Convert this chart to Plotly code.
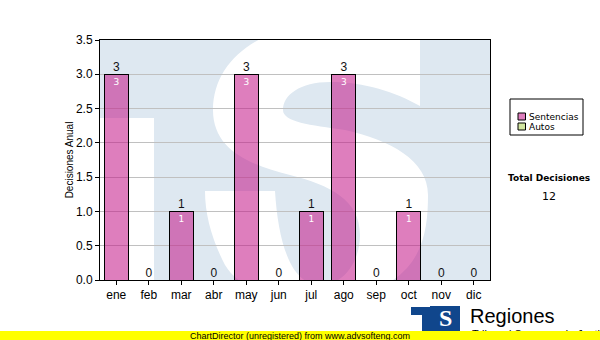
import plotly.graph_objects as go

# ---- data ----
months = ["ene", "feb", "mar", "abr", "may", "jun", "jul", "ago", "sep", "oct", "nov", "dic"]
sentencias = [3, 0, 1, 0, 3, 0, 1, 3, 0, 1, 0, 0]
autos = [0, 0, 0, 0, 0, 0, 0, 0, 0, 0, 0, 0]
series_names = ["Sentencias", "Autos"]
y_ticks = [0.0, 0.5, 1.0, 1.5, 2.0, 2.5, 3.0, 3.5]
totals = [s + a for s, a in zip(sentencias, autos)]
total_decisiones = sum(totals)

W, H = 600, 340
L, R, T, B = 100, 110, 40, 60  # plot area 100..490 x 40..280

def px(x):
    return (x - L) / (W - L - R)

def py(y):
    return (H - B - y) / (H - T - B)

AXF = "Liberation Sans, Arial, sans-serif"
VF = "DejaVu Sans, Verdana, sans-serif"
PINK = "rgba(195,20,135,0.55)"
PINK_SWATCH = "#de7ebd"
GREEN = "#d2e6a0"
WM = "#dee8f1"

fig = go.Figure()

fig.add_trace(go.Bar(
    x=months, y=sentencias, name=series_names[0],
    marker=dict(color=PINK, line=dict(color="black", width=1)),
    width=0.74,
    text=[str(v) if v else "" for v in sentencias],
    textposition="inside", insidetextanchor="end", textangle=0,
    insidetextfont=dict(color="white", size=9, family=VF),
    hoverinfo="skip",
))
fig.add_trace(go.Bar(
    x=months, y=autos, name=series_names[1],
    marker=dict(color=GREEN, line=dict(color="black", width=1)),
    width=0.74, hoverinfo="skip",
))
fig.add_trace(go.Scatter(
    x=months, y=totals, mode="text",
    text=[str(v) for v in totals], textposition="top center",
    textfont=dict(size=12, color="#111111", family=AXF),
    hoverinfo="skip", cliponaxis=False,
))
# empty trace on pixel-like overlay axes used for the watermark
fig.add_trace(go.Scatter(x=[], y=[], xaxis="x2", yaxis="y2", hoverinfo="skip"))

shapes = []
# watermark (TS logo) in overlay pixel coordinates
shapes.append(dict(type="rect", xref="x2", yref="y2", x0=90, x1=500, y0=30, y1=290,
                   fillcolor=WM, line=dict(width=0), layer="below"))
shapes.append(dict(type="rect", xref="x2", yref="y2", x0=90, x1=154, y0=118, y1=290,
                   fillcolor="white", line=dict(width=0), layer="below"))
s_path = ("M 420,10 L 420,106 "
          "C 395,92 365,82 330,82 "
          "C 300,82 283,95 283,110 "
          "C 283,122 310,125 345,130 "
          "C 390,140 428,160 428,195 "
          "C 428,240 420,290 330,300 "
          "C 280,305 240,290 225,265 "
          "C 212,240 205,215 205,191 "
          "L 275,191 "
          "C 278,240 290,285 320,285 "
          "C 345,285 360,260 360,235 "
          "C 360,200 330,185 290,175 "
          "C 250,165 213,150 213,110 "
          "C 213,60 260,25 330,22 "
          "C 370,20 400,15 420,10 Z")
shapes.append(dict(type="path", xref="x2", yref="y2", path=s_path,
                   fillcolor="white", line=dict(width=0), layer="below"))

# manual legend box
shapes.append(dict(type="rect", xref="paper", yref="paper", x0=px(510), x1=px(583), y0=py(135), y1=py(99),
                   fillcolor="white", line=dict(color="black", width=1), layer="above"))
legend_colors = [PINK_SWATCH, GREEN]
legend_rows = [116.5, 126.5]
annotations = []
for name, col, ry in zip(series_names, legend_colors, legend_rows):
    shapes.append(dict(type="rect", xref="paper", yref="paper", x0=px(518), x1=px(525.5),
                       y0=py(ry + 3.5), y1=py(ry - 3.5),
                       fillcolor=col, line=dict(color="black", width=1), layer="above"))
    annotations.append(dict(text=name, x=px(527), y=py(ry), xref="paper", yref="paper",
                            xanchor="left", yanchor="middle", showarrow=False,
                            font=dict(size=9, family=VF, color="black")))

# bottom yellow band (under the annotation band)
shapes.append(dict(type="rect", xref="paper", yref="paper", x0=px(0), x1=px(600), y0=py(340), y1=py(331),
                   fillcolor="#ffff00", line=dict(width=0), layer="above"))
# small logo
LOGO = "#10468c"
shapes.append(dict(type="rect", xref="paper", yref="paper", x0=px(411), x1=px(432), y0=py(315), y1=py(307),
                   fillcolor=LOGO, line=dict(width=0), layer="above"))
shapes.append(dict(type="rect", xref="paper", yref="paper", x0=px(422), x1=px(434), y0=py(331), y1=py(307),
                   fillcolor=LOGO, line=dict(width=0), layer="above"))
shapes.append(dict(type="rect", xref="paper", yref="paper", x0=px(430), x1=px(460), y0=py(331), y1=py(306),
                   fillcolor=LOGO, line=dict(width=0), layer="above"))

annotations += [
    dict(text="<b>Total Decisiones</b>", x=px(549), y=py(178), xref="paper", yref="paper",
         xanchor="center", yanchor="middle",
         showarrow=False, font=dict(size=9, family=VF, color="black")),
    dict(text=str(total_decisiones), x=px(549), y=py(196), xref="paper", yref="paper",
         xanchor="center", yanchor="middle",
         showarrow=False, font=dict(size=11, family=VF, color="black")),
    dict(text="Regiones", x=px(468), y=py(316), xref="paper", yref="paper",
         xanchor="left", yanchor="middle",
         showarrow=False, font=dict(size=20, family=AXF, color="black")),
    dict(text="Tribunal Supremo de Justicia", x=px(470), y=py(334), xref="paper", yref="paper",
         xanchor="left", yanchor="middle",
         showarrow=False, font=dict(size=11, family=AXF, color="black")),
    dict(text="<b>S</b>", x=px(445), y=py(318), xref="paper", yref="paper",
         xanchor="center", yanchor="middle",
         showarrow=False, font=dict(size=24, family="Liberation Serif, serif", color="white")),
    # yellow band with unregistered notice, drawn over the subtitle
    dict(text="ChartDirector (unregistered) from www.advsofteng.com", x=px(300), y=py(335.5),
         xref="paper", yref="paper", xanchor="center", yanchor="middle", showarrow=False,
         width=600, height=9, bgcolor="#ffff00", borderpad=0, borderwidth=0, align="center",
         font=dict(size=9, family=AXF, color="black")),
]

fig.update_layout(
    width=W, height=H,
    margin=dict(l=L, r=R, t=T, b=B, autoexpand=False),
    paper_bgcolor="white", plot_bgcolor="white",
    barmode="stack", bargap=0.26,
    showlegend=False,
    xaxis=dict(type="category", categoryorder="array", categoryarray=months,
               range=[-0.5, len(months) - 0.5],
               showline=True, linecolor="black", linewidth=1, mirror=True,
               ticks="outside", ticklen=4, tickcolor="black",
               showgrid=False, zeroline=False, automargin=False,
               tickfont=dict(size=12, family=AXF, color="black")),
    yaxis=dict(range=[0, 3.5], tickvals=y_ticks, ticktext=[f"{v:.1f}" for v in y_ticks],
               showline=True, linecolor="black", linewidth=1, mirror=True,
               ticks="outside", ticklen=4, tickcolor="black",
               showgrid=True, gridcolor="#c0c0c0", gridwidth=1, zeroline=False, automargin=False,
               tickfont=dict(size=12, family=AXF, color="black"),
               title=dict(text="Decisiones Anual", standoff=0,
                          font=dict(size=10, family=AXF, color="black"))),
    xaxis2=dict(range=[L, W - R], overlaying="x", visible=False),
    yaxis2=dict(range=[H - B, T], overlaying="y", visible=False),
    shapes=shapes,
    annotations=annotations,
)

fig.write_html("out.html")
